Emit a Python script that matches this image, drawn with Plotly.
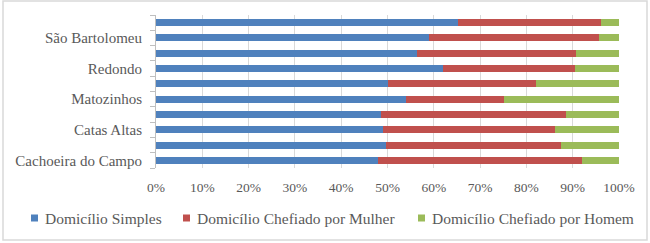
import plotly.graph_objects as go

categories = ["Cachoeira do Campo", "Casa Branca", "Catas Altas", "Itaverava",
              "Matozinhos", "Ouro Branco", "Redondo", "Santa Rita",
              "São Bartolomeu", "Sumidouro"]
labeled = ["Cachoeira do Campo", "Catas Altas", "Matozinhos", "Redondo", "São Bartolomeu"]

simples = [47.9, 49.6, 49.0, 48.7, 54.1, 50.0, 61.9, 56.4, 58.9, 65.3]
mulher = [44.2, 37.9, 37.1, 39.9, 21.1, 32.1, 28.7, 34.4, 36.7, 30.9]
homem = [7.9, 12.5, 13.9, 11.4, 24.8, 17.9, 9.4, 9.2, 4.4, 3.8]

series_names = ["Domicílio Simples", "Domicílio Chefiado por Mulher", "Domicílio Chefiado por Homem"]
series_vals = [simples, mulher, homem]
series_colors = ["#4F81BD", "#C0504D", "#9BBB59"]

FONT = "Liberation Serif"
TXT = "#595959"
W, H = 650, 243
L, R, T, B = 156, 31, 15, 75
PW, PH = W - L - R, H - T - B


def px(x):
    return (x - L) / PW


def py(y):
    return (H - B - y) / PH


fig = go.Figure()
for name, vals, col in zip(series_names, series_vals, series_colors):
    fig.add_trace(go.Bar(y=categories, x=[v / 100 for v in vals], name=name,
                         orientation="h", showlegend=False, hoverinfo="skip",
                         marker=dict(color=col, line=dict(width=0))))

# legend drawn manually to match small square keys
legend_square_x = [31, 183, 418]
legend_y = 218
shapes = [dict(type="rect", xref="paper", yref="paper",
               x0=px(3), x1=px(647), y0=py(240), y1=py(1),
               line=dict(color="#D9D9D9", width=1.5), fillcolor="rgba(0,0,0,0)",
               layer="below")]
annotations = []
for name, col, sx in zip(series_names, series_colors, legend_square_x):
    shapes.append(dict(type="rect", xref="paper", yref="paper",
                       x0=px(sx), x1=px(sx + 7), y0=py(legend_y + 3.5), y1=py(legend_y - 3.5),
                       line=dict(width=0), fillcolor=col))
    annotations.append(dict(xref="paper", yref="paper", x=px(sx + 12), y=py(legend_y),
                            xanchor="left", yanchor="middle", showarrow=False, text=name,
                            font=dict(family=FONT, size=15.5, color=TXT)))

fig.update_layout(
    width=W, height=H,
    barmode="stack", bargap=0.54,
    margin=dict(l=L, r=R, t=T, b=B, autoexpand=False),
    paper_bgcolor="white", plot_bgcolor="white",
    font=dict(family=FONT, size=13, color=TXT),
    showlegend=False,
    xaxis=dict(range=[0, 1], tickformat=".0%", dtick=0.1, showgrid=True,
               gridcolor="#D9D9D9", gridwidth=1, zeroline=False, showline=False,
               tickfont=dict(family=FONT, size=13.5, color=TXT), ticks="",
               automargin=False, ticklabelstandoff=9),
    yaxis=dict(type="category", categoryorder="array", categoryarray=categories,
               tickvals=categories,
               ticktext=[c if c in labeled else "" for c in categories],
               tickson="boundaries", ticks="outside", ticklen=5, tickcolor="#BFBFBF",
               showline=True, linecolor="#BFBFBF",
               tickfont=dict(family=FONT, size=15, color=TXT), showgrid=False,
               automargin=False, ticklabelstandoff=10),
    shapes=shapes,
    annotations=annotations,
)
fig.write_html("out.html", config={"displayModeBar": False},
               post_script="document.body.style.margin='0px';")
